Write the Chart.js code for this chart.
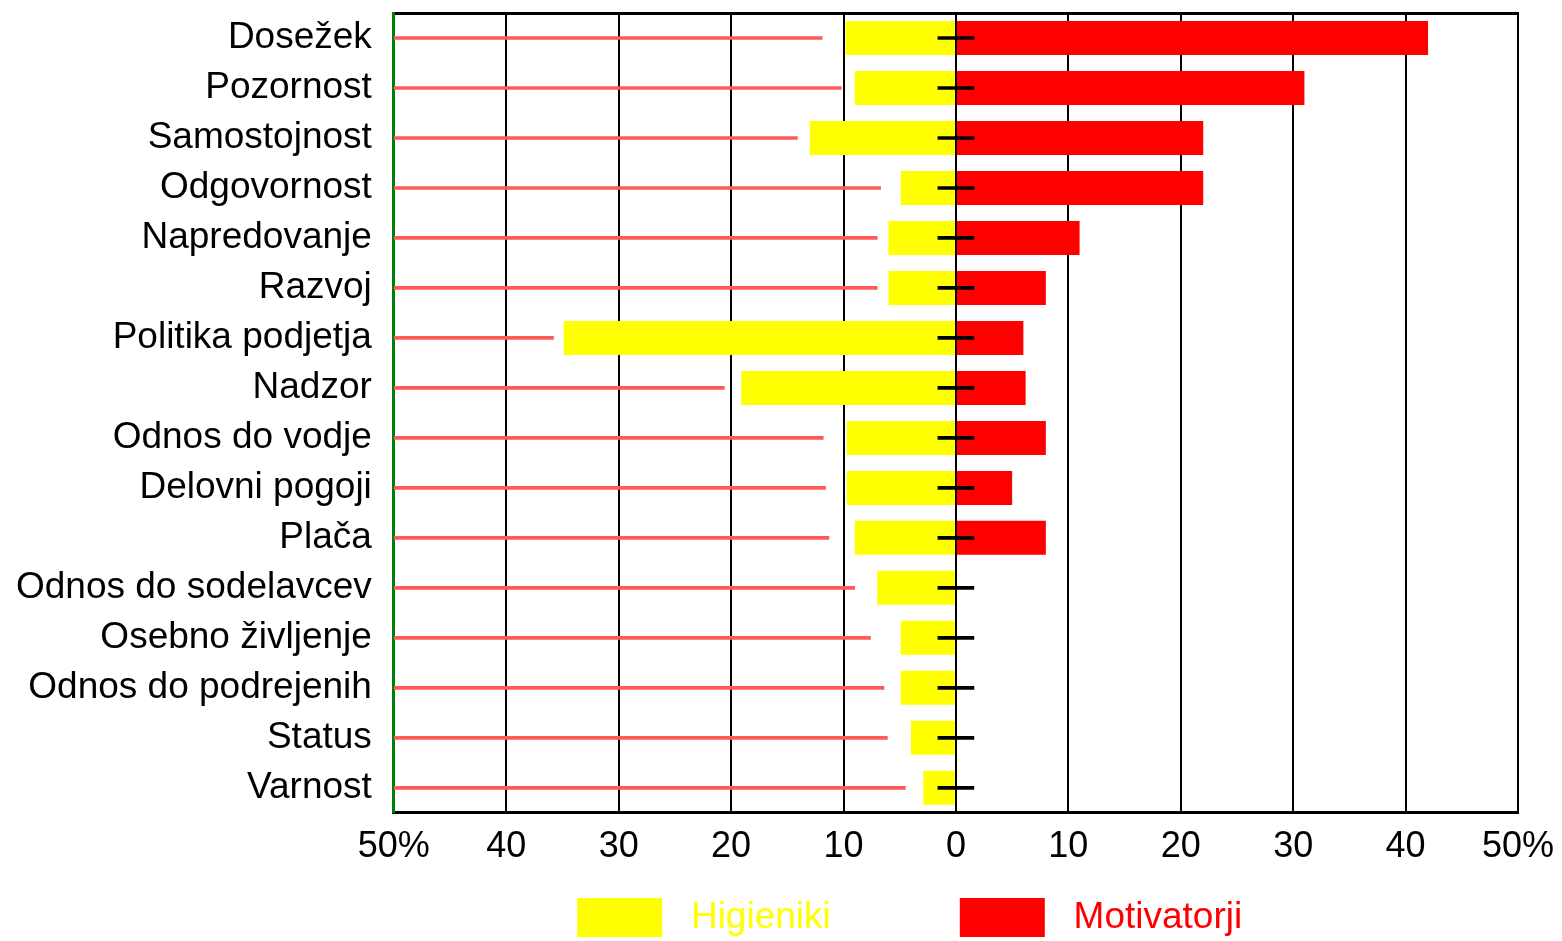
<!DOCTYPE html>
<html>
<head>
<meta charset="utf-8">
<script src="https://cdn.jsdelivr.net/npm/chart.js@4"></script>
<style>
  html, body { margin: 0; padding: 0; background: #fff; }
  #wrap { width: 1562px; height: 941px; }
</style>
</head>
<body>
<div id="wrap"><canvas id="graph-canvas" width="1562" height="941"></canvas></div>
<script>
var categories = ["Dosežek", "Pozornost", "Samostojnost", "Odgovornost", "Napredovanje", "Razvoj",
    "Politika podjetja", "Nadzor", "Odnos do vodje", "Delovni pogoji", "Plača", "Odnos do sodelavcev",
    "Osebno življenje", "Odnos do podrejenih", "Status", "Varnost"];
// Higieniki drawn to the left of zero
var higieniki = [-9.8, -9, -13, -4.9, -6, -6, -34.9, -19.1, -9.7, -9.7, -9, -7, -4.9, -4.9, -4, -2.9];
var motivatorji = [42, 31, 22, 22, 11, 8, 6, 6.2, 8, 5, 8, 0, 0, 0, 0, 0];
// thin lines from the left edge
var lineEnds = [-11.9, -10.2, -14.1, -6.7, -7, -7, -35.8, -20.6, -11.8, -11.6, -11.3, -9, -7.6, -6.4, -6.1, -4.5];
var markHalf = [1.6, 1.6, 1.6, 1.6, 1.6, 1.6, 1.6, 1.6, 1.6, 1.6, 1.6, 1.6, 1.6, 1.6, 1.6, 1.6];
var xTicks = [-50, -40, -30, -20, -10, 0, 10, 20, 30, 40, 50];

var font = 'Liberation Sans, Arial, sans-serif';

var lineData = [];
var markData = [];
for (let i = 0; i < categories.length; i++) {
    lineData.push([-50, lineEnds[i]]);
    markData.push([-markHalf[i], markHalf[i]]);
}

var datasets = [
    {label: 'Higieniki', data: higieniki, backgroundColor: '#ffff00', grouped: false,
     barPercentage: 0.68, categoryPercentage: 1, order: 3},
    {label: 'Motivatorji', data: motivatorji, backgroundColor: '#ff0000', grouped: false,
     barPercentage: 0.68, categoryPercentage: 1, order: 3},
    {label: 'lines', data: lineData, backgroundColor: '#ff5a5a', grouped: false,
     barThickness: 3, order: 2},
    {label: 'marks', data: markData, backgroundColor: '#000000', grouped: false,
     barThickness: 3, order: 1}
];

// extra spacing around the legend texts
var legendGapAfter = ['           ', '         '];

function noOverflow(scale) {
    scale.paddingTop = 0;
    scale.paddingBottom = 0;
    scale.paddingLeft = 0;
    scale.paddingRight = 0;
}

var config = {
    type: 'bar',
    data: {labels: categories, datasets: datasets},
    options: {
        indexAxis: 'y',
        responsive: false,
        animation: false,
        layout: {autoPadding: false, padding: {top: 13, left: -6, right: 44, bottom: -6}},
        plugins: {
            tooltip: {enabled: false},
            legend: {
                position: 'bottom',
                fullSize: false,
                labels: {
                    boxWidth: 85,
                    boxHeight: 39,
                    padding: 16,
                    font: {size: 37, family: font},
                    generateLabels: function(chart) {
                        let items = Chart.defaults.plugins.legend.labels.generateLabels(chart);
                        items = items.filter(it => it.datasetIndex < 2);
                        items.forEach((it, i) => {
                            it.fontColor = it.fillStyle;
                            it.lineWidth = 0;
                            it.text = ' ' + it.text + legendGapAfter[i];
                        });
                        return items;
                    }
                }
            }
        },
        scales: {
            x: {
                type: 'linear',
                min: -50,
                max: 50,
                z: 1,
                afterBuildTicks: function(scale) {
                    scale.ticks = xTicks.map(v => ({value: v}));
                },
                afterFit: noOverflow,
                ticks: {
                    color: '#000',
                    padding: 13,
                    font: {size: 36, family: font},
                    callback: function(v) {
                        if (Math.abs(v) == 50) return '50%';
                        return Math.abs(v).toString();
                    }
                },
                grid: {
                    drawTicks: false,
                    lineWidth: 2,
                    color: function(ctx) {
                        if (ctx.tick && ctx.tick.value == -50) return '#008000';
                        return '#000000';
                    }
                },
                border: {color: '#000', width: 3}
            },
            x2: {
                type: 'linear',
                position: 'top',
                min: -50,
                max: 50,
                ticks: {display: false},
                grid: {display: false, drawTicks: false},
                border: {color: '#000', width: 3},
                afterFit: function(scale) {
                    noOverflow(scale);
                    scale.height = 0;
                }
            },
            y: {
                afterFit: noOverflow,
                ticks: {
                    color: '#000',
                    padding: 22,
                    autoSkip: false,
                    font: {size: 37, family: font}
                },
                grid: {display: false, drawTicks: false},
                border: {color: '#008000', width: 3}
            }
        }
    }
};

var canvas = window.document.getElementById('graph-canvas');
var context = canvas.getContext('2d');
var chart = new Chart(context, config);
</script>
</body>
</html>
